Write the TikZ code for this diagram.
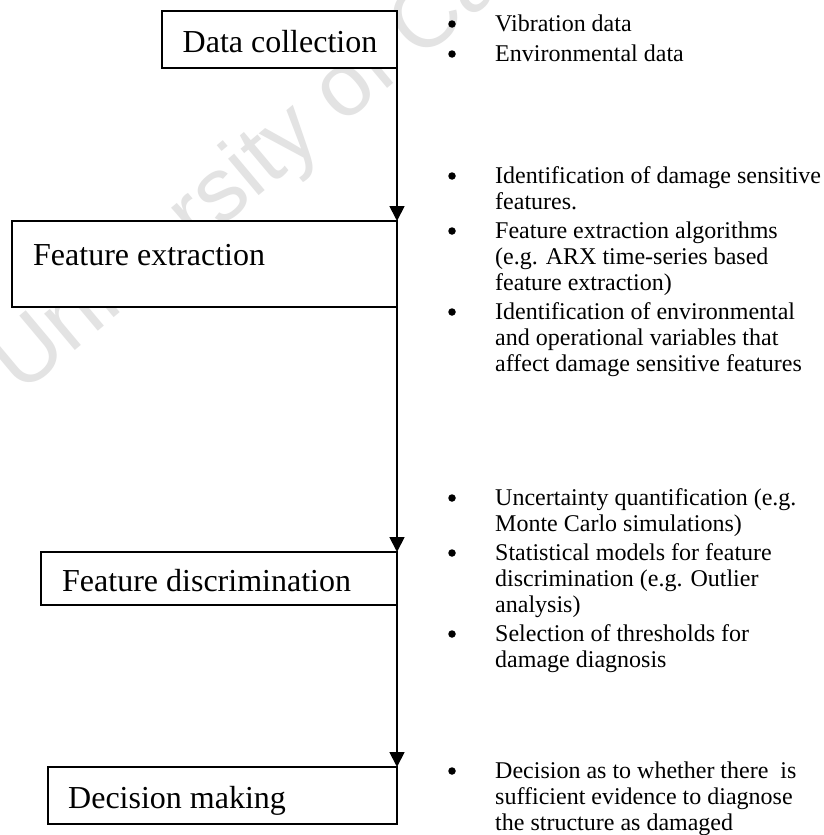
\documentclass[tikz,border=0pt]{standalone}
\usepackage{fontspec}
\setmainfont{Liberation Serif}
\newfontfamily\wmfont{Liberation Sans}
\usetikzlibrary{arrows.meta}
\begin{document}
\begin{tikzpicture}[x=1pt,y=-1pt,
  stagebox/.style={draw, line width=1.8pt, fill=white, inner sep=0pt, outer sep=0pt, anchor=north west},
  stagelabel/.style={font=\fontsize{32}{38}\selectfont, inner sep=0pt},
  itemline/.style={font=\fontsize{24}{26}\selectfont, inner sep=0pt, anchor=base west},
  bulletdot/.style={circle, fill=black, inner sep=0pt, minimum size=7.5pt},
  watermark/.style={font=\wmfont\fontsize{90}{90}\selectfont, text=black!11, inner sep=0pt, rotate=40, anchor=base west},
  flow/.style={line width=1.8pt, -{Triangle[length=15pt,width=15pt]}}]
\fill[white] (0,0) rectangle (824,835);
\useasboundingbox (0,0) rectangle (824,835);

% faint watermark
\begin{scope}
\clip (0,0) rectangle (824,835);
\node[watermark] (wm) at (21,396) {University of Cape Town};
\end{scope}

% stage boxes
\node[stagebox, minimum width=235pt, minimum height=57pt] (b1) at (162,11) {};
\node[stagebox, minimum width=385pt, minimum height=86pt] (b2) at (12,221) {};
\node[stagebox, minimum width=356pt, minimum height=53pt] (b3) at (41,552) {};
\node[stagebox, minimum width=349pt, minimum height=57pt] (b4) at (48,767) {};

% stage labels
\node[stagelabel, anchor=base] (t1) at (280,52) {Data collection};
\node[stagelabel, anchor=base west] (t2) at (33,265) {Feature extraction};
\node[stagelabel, anchor=base west] (t3) at (62,591) {Feature discrimination};
\node[stagelabel, anchor=base west] (t4) at (68,808) {Decision making};

% connectors
\draw[flow] (b1.south east) -- (b2.north east);
\draw[flow] (b2.south east) -- (b3.north east);
\draw[flow] (b3.south east) -- (b4.north east);

% group 1
\node[bulletdot] (u11) at (452,24) {};
\node[itemline] (g11) at (495,31) {Vibration data};
\node[bulletdot] (u12) at (452,54) {};
\node[itemline] (g12) at (495,61) {Environmental data};

% group 2
\node[bulletdot] (u21) at (452,176) {};
\node[itemline] (g21) at (495,183) {Identification of damage sensitive};
\node[itemline] (g22) at (495,209) {features.};
\node[bulletdot] (u22) at (452,231) {};
\node[itemline] (g23) at (495,238) {Feature extraction algorithms};
\node[itemline] (g24) at (495,264) {(e.g. ARX time-series based};
\node[itemline] (g25) at (495,290) {feature extraction)};
\node[bulletdot] (u23) at (452,312) {};
\node[itemline] (g26) at (495,319) {Identification of environmental};
\node[itemline] (g27) at (495,345) {and operational variables that};
\node[itemline] (g28) at (495,371) {affect damage sensitive features};

% group 3
\node[bulletdot] (u31) at (452,498) {};
\node[itemline] (g31) at (495,505) {Uncertainty quantification (e.g.};
\node[itemline] (g32) at (495,531) {Monte Carlo simulations)};
\node[bulletdot] (u32) at (452,553) {};
\node[itemline] (g33) at (495,560) {Statistical models for feature};
\node[itemline] (g34) at (495,586) {discrimination (e.g. Outlier};
\node[itemline] (g35) at (495,612) {analysis)};
\node[bulletdot] (u33) at (452,634) {};
\node[itemline] (g36) at (495,641) {Selection of thresholds for};
\node[itemline] (g37) at (495,667) {damage diagnosis};

% group 4
\node[bulletdot] (u41) at (452,771) {};
\node[itemline] (g41) at (495,778) {Decision as to whether there\ \ is};
\node[itemline] (g42) at (495,804) {sufficient evidence to diagnose};
\node[itemline] (g43) at (495,830) {the structure as damaged};
\end{tikzpicture}
\end{document}
